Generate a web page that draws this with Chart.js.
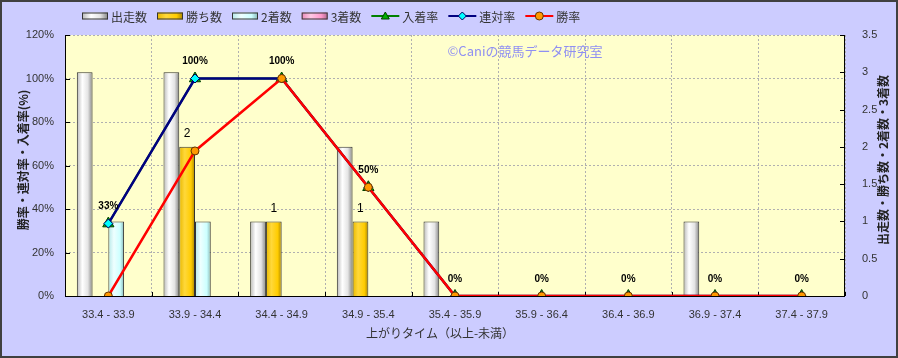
<!DOCTYPE html>
<html><head><meta charset="utf-8">
<script src="https://cdn.jsdelivr.net/npm/chart.js@4.4.0/dist/chart.umd.min.js"></script>
<style>html,body{margin:0;padding:0;background:#ccccff;overflow:hidden}canvas{display:block}</style>
</head><body>
<canvas id="c" width="898" height="358"></canvas>
<script>
const categories = ['33.4 - 33.9','33.9 - 34.4','34.4 - 34.9','34.9 - 35.4','35.4 - 35.9','35.9 - 36.4','36.4 - 36.9','36.9 - 37.4','37.4 - 37.9'];
const starts  = [3, 3, 1, 2, 1, 0, 0, 1, 0];
const wins    = [0, 2, 1, 1, 0, 0, 0, 0, 0];
const seconds = [1, 1, 0, 0, 0, 0, 0, 0, 0];
const thirds  = [0, 0, 0, 0, 0, 0, 0, 0, 0];
const showRate   = [33.3, 100, 100, 50, 0, 0, 0, 0, 0];
const rentaiRate = [33.3, 100, 100, 50, 0, 0, 0, 0, 0];
const winRate    = [0, 66.7, 100, 50, 0, 0, 0, 0, 0];
const yTickLabels  = ['0%','20%','40%','60%','80%','100%','120%'];
const y2TickLabels = ['0','0.5','1','1.5','2','2.5','3','3.5'];
const seriesNames = ['出走数','勝ち数','2着数','3着数','入着率','連対率','勝率'];

const FONT = "'Liberation Sans','Noto Sans CJK JP',sans-serif";
const JFONT = "'Noto Sans CJK JP','Liberation Sans',sans-serif";
const CAT_PCT = 0.727;

const barStops = [
  [[0,'#b8b8b8'],[0.35,'#ffffff'],[0.7,'#e4e4e4'],[1,'#858585']],
  [[0,'#e8b800'],[0.35,'#ffd83a'],[0.75,'#ffcc00'],[1,'#a88400']],
  [[0,'#b5e8e8'],[0.35,'#eeffff'],[0.75,'#ccffff'],[1,'#88b8b8']],
  [[0,'#e88ab8'],[0.35,'#ffc8e4'],[0.75,'#ff99cc'],[1,'#b06890']]
];
function makeGrad(ctx, x0, x1, stops){
  const g = ctx.createLinearGradient(x0,0,x1,0);
  stops.forEach(s=>g.addColorStop(s[0],s[1]));
  return g;
}
function barBg(k){
  return (c)=>{
    const chart = c.chart, xs = chart.scales.x;
    if(!xs || c.type!=='data' || !isFinite(xs.left)) return barStops[k][2][1];
    const catW = (xs.right - xs.left)/categories.length;
    const groupW = catW*CAT_PCT, bw = groupW/4;
    const center = xs.getPixelForValue(c.dataIndex);
    const x0 = center - groupW/2 + bw*k;
    return makeGrad(chart.ctx, x0, x0+bw, barStops[k]);
  };
}

const deco = {
  id:'deco',
  beforeDraw(chart){
    const {ctx, chartArea:a} = chart;
    ctx.save();
    ctx.fillStyle='#ccccff'; ctx.fillRect(0,0,chart.width,chart.height);
    ctx.fillStyle='#ffffcc'; ctx.fillRect(a.left,a.top,a.right-a.left,a.bottom-a.top);
    ctx.restore();
  },
  beforeDatasetsDraw(chart){
    const {ctx, chartArea:a, scales} = chart;
    ctx.save();
    ctx.strokeStyle='#000'; ctx.lineWidth=1;
    ctx.beginPath();
    ctx.moveTo(a.left+0.5,a.top); ctx.lineTo(a.left+0.5,a.bottom+0.5);
    ctx.lineTo(a.right-0.5,a.bottom+0.5); ctx.lineTo(a.right-0.5,a.top);
    scales.y.ticks.forEach(t=>{const y=Math.round(scales.y.getPixelForValue(t.value))+0.5; ctx.moveTo(a.left,y); ctx.lineTo(a.left+5,y);});
    scales.y2.ticks.forEach(t=>{const y=Math.round(scales.y2.getPixelForValue(t.value))+0.5; ctx.moveTo(a.right-5,y); ctx.lineTo(a.right,y);});
    const catW=(a.right-a.left)/categories.length;
    for(let i=0;i<categories.length;i++){const x=Math.round(scales.x.getPixelForValue(i)+catW/2)+0.5; ctx.moveTo(x,a.bottom-4); ctx.lineTo(x,a.bottom);}
    ctx.stroke();
    ctx.restore();
  },
  afterDatasetsDraw(chart){
    const {ctx} = chart;
    ctx.save();
    ctx.fillStyle='#000'; ctx.textAlign='center'; ctx.textBaseline='middle';
    const mw = chart.getDatasetMeta(1);
    ctx.font = '12px '+FONT;
    mw.data.forEach((el,i)=>{ if(wins[i]>0) ctx.fillText(String(wins[i]), el.x, el.y-13); });
    const ms = chart.getDatasetMeta(4);
    ctx.font = 'bold 10px '+FONT;
    ms.data.forEach((el,i)=>{ ctx.fillText(Math.round(showRate[i])+'%', el.x, el.y-17); });
    ctx.restore();
  },
  afterDraw(chart){
    const {ctx} = chart;
    ctx.save();
    ctx.fillStyle='#8f8ff2'; ctx.font='13px '+JFONT; ctx.textAlign='center'; ctx.textBaseline='middle';
    ctx.fillText('©Caniの競馬データ研究室', 525, 51);
    ctx.fillStyle='#222'; ctx.font='bold 12px '+JFONT;
    ctx.save(); ctx.translate(23,160); ctx.rotate(-Math.PI/2); ctx.fillText('勝率・連対率・入着率(%)',0,0); ctx.restore();
    ctx.save(); ctx.translate(883,160); ctx.rotate(-Math.PI/2); ctx.fillText('出走数・勝ち数・2着数・3着数',0,0); ctx.restore();
    ctx.font='12px '+JFONT; ctx.fillStyle='#333';
    ctx.fillText('上がりタイム（以上-未満）', 440, 333);
    let x=82; const cy=16;
    ctx.textAlign='left'; ctx.font='12px '+JFONT; ctx.fillStyle='#333';
    const lineDefs = {4:['#008000','triangle','#00b000','#004000'],5:['#000080','rectRot','#00ffff','#000060'],6:['#ff0000','circle','#ff9900','#663300']};
    seriesNames.forEach((name,k)=>{
      if(k<4){
        ctx.fillStyle = makeGrad(ctx,x,x+26,barStops[k]);
        ctx.fillRect(x,cy-3.5,26,7);
        ctx.strokeStyle='#333'; ctx.lineWidth=1; ctx.strokeRect(x+0.5,cy-3,25,6);
        x+=26;
      } else {
        const d=lineDefs[k];
        ctx.strokeStyle=d[0]; ctx.lineWidth=2;
        ctx.beginPath(); ctx.moveTo(x,cy); ctx.lineTo(x+28,cy); ctx.stroke();
        ctx.fillStyle=d[2]; ctx.strokeStyle=d[3]; ctx.lineWidth=1;
        ctx.beginPath();
        if(d[1]==='circle'){ctx.arc(x+14,cy,4,0,Math.PI*2);}
        else if(d[1]==='rectRot'){ctx.moveTo(x+14,cy-4);ctx.lineTo(x+18,cy);ctx.lineTo(x+14,cy+4);ctx.lineTo(x+10,cy);ctx.closePath();}
        else {ctx.moveTo(x+14,cy-4);ctx.lineTo(x+18,cy+3);ctx.lineTo(x+10,cy+3);ctx.closePath();}
        ctx.fill(); ctx.stroke();
        x+=28;
      }
      x+=3;
      ctx.fillStyle='#333';
      ctx.fillText(name,x,cy+1);
      x+=ctx.measureText(name).width+10;
    });
    ctx.strokeStyle='#404040'; ctx.lineWidth=2; ctx.strokeRect(1,1,chart.width-2,chart.height-2);
    ctx.restore();
  }
};

const barDs = (k, data) => ({
  type:'bar', label:seriesNames[k], data, yAxisID:'y2', order:10+k,
  backgroundColor: barBg(k), borderColor:'#333', borderWidth:1,
  categoryPercentage: CAT_PCT, barPercentage: 1
});

new Chart(document.getElementById('c'), {
  data:{
    labels: categories,
    datasets:[
      barDs(0, starts), barDs(1, wins), barDs(2, seconds), barDs(3, thirds),
      {type:'line', label:seriesNames[4], data:showRate, yAxisID:'y', order:3,
       borderColor:'#008000', borderWidth:2, pointStyle:'triangle', pointRadius:6.5,
       pointBackgroundColor:'#00b000', pointBorderColor:'#004000', pointBorderWidth:1, tension:0, fill:false},
      {type:'line', label:seriesNames[5], data:rentaiRate, yAxisID:'y', order:2,
       borderColor:'#000080', borderWidth:2.5, pointStyle:'rectRot', pointRadius:4.5,
       pointBackgroundColor:'#00ffff', pointBorderColor:'#000060', pointBorderWidth:1, tension:0, fill:false},
      {type:'line', label:seriesNames[6], data:winRate, yAxisID:'y', order:1,
       borderColor:'#ff0000', borderWidth:2.5, pointStyle:'circle', pointRadius:4,
       pointBackgroundColor:'#ff9900', pointBorderColor:'#663300', pointBorderWidth:1, tension:0, fill:false}
    ]
  },
  options:{
    responsive:false, animation:false,
    layout:{padding:{top:35,left:0,right:0,bottom:0}},
    plugins:{legend:{display:false}, tooltip:{enabled:false}},
    scales:{
      x:{offset:true, grid:{offset:true, color:'#b0b0b0', drawTicks:false}, border:{display:false, dash:[2,2]},
         ticks:{padding:12, color:'#333', font:{size:11, family:FONT}, maxRotation:0, autoSkip:false},
         afterFit(s){s.height=62;}},
      y:{position:'left', min:0, max:120, grid:{color:'#b0b0b0', drawTicks:false}, border:{display:false, dash:[2,2]},
         ticks:{stepSize:20, padding:11, color:'#333', font:{size:11, family:FONT}, callback:(v,i)=>yTickLabels[i]},
         afterFit(s){s.width=65;}},
      y2:{position:'right', min:0, max:3.5, grid:{display:false}, border:{display:false},
         ticks:{stepSize:0.5, padding:9, color:'#333', font:{size:11, family:FONT}, callback:(v,i)=>y2TickLabels[i]},
         afterFit(s){s.width=53;}}
    }
  },
  plugins:[deco]
});
</script>
</body></html>
